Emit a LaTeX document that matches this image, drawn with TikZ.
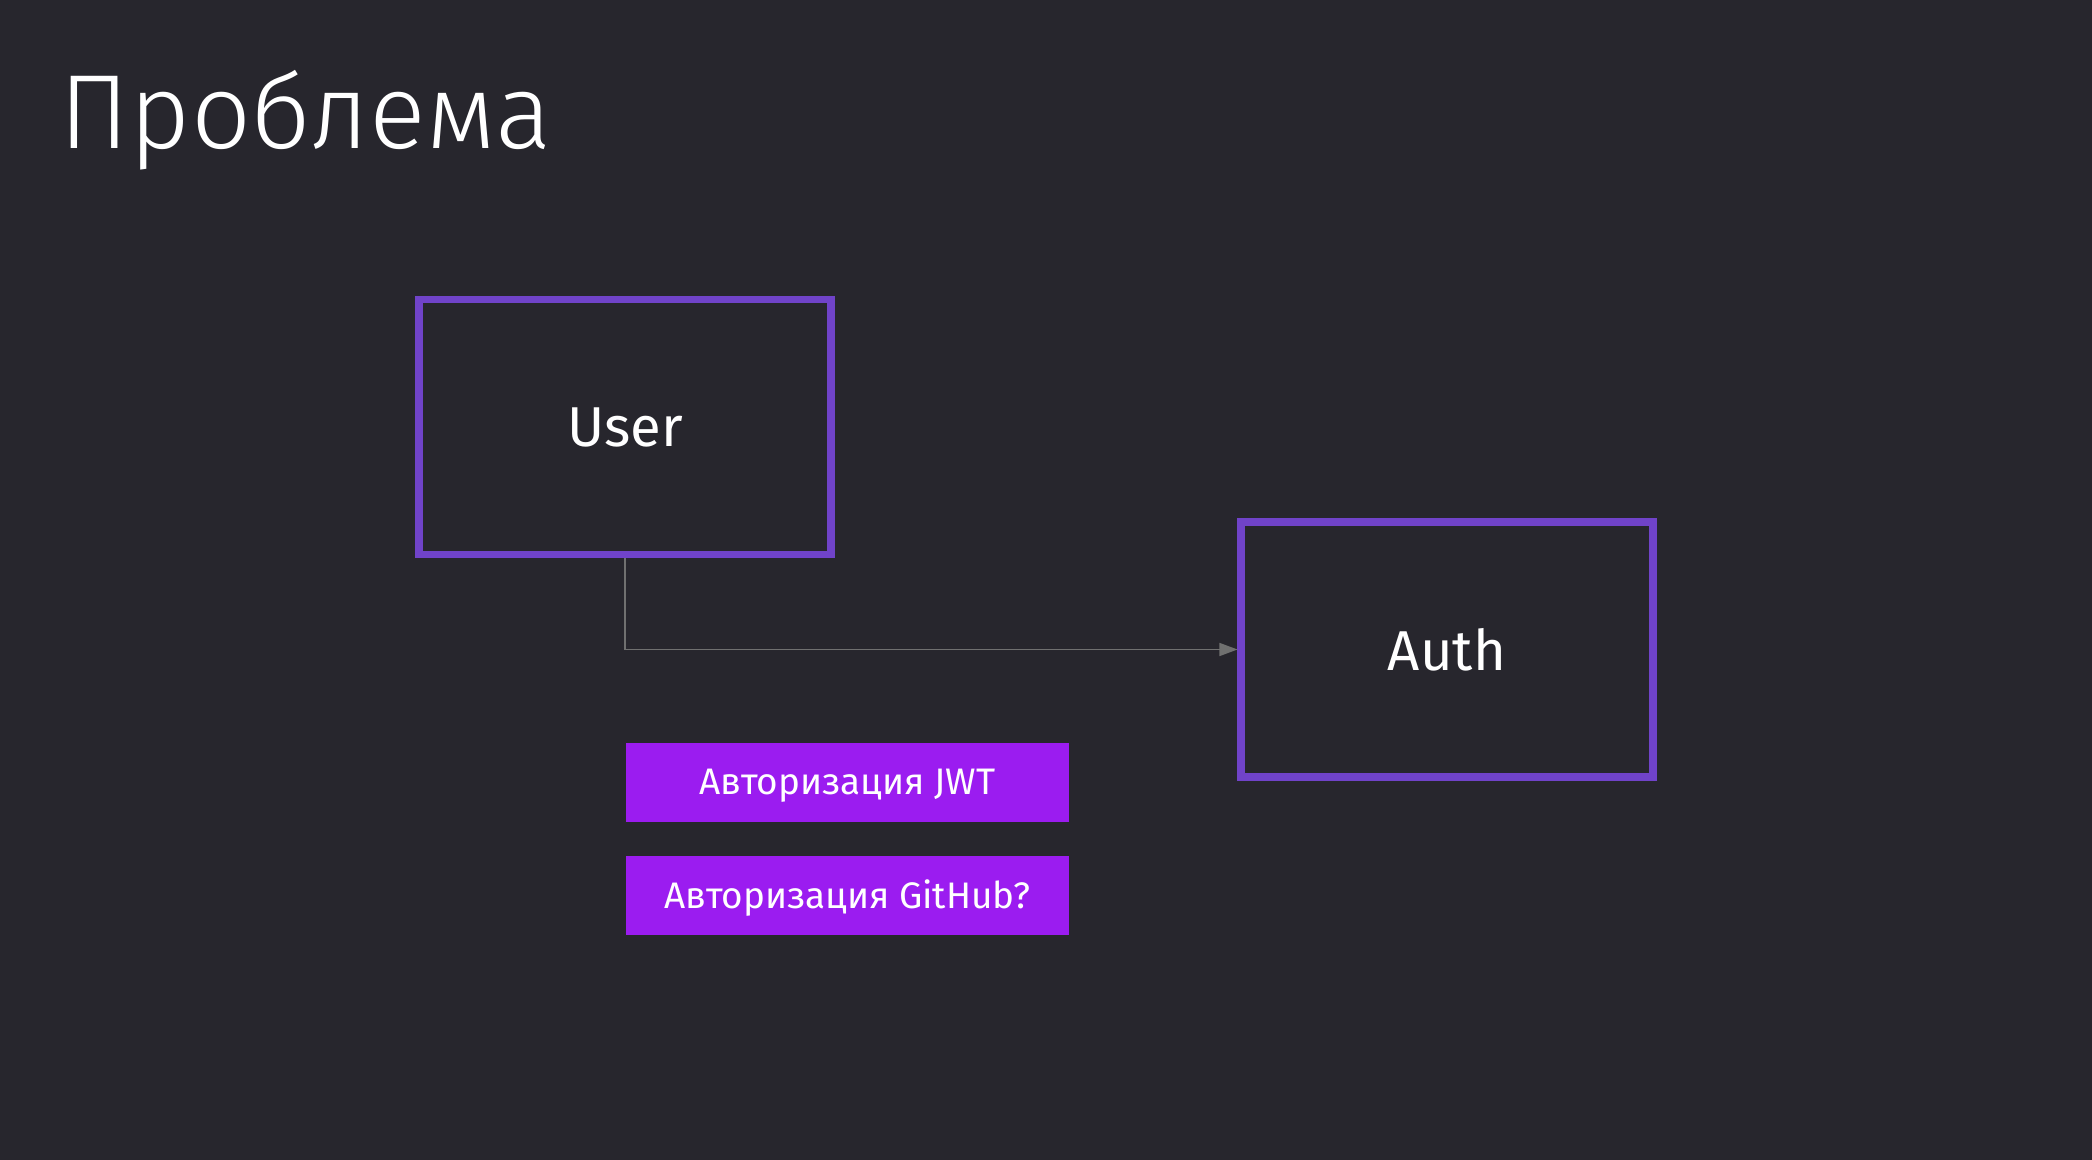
\documentclass[tikz,border=0pt]{standalone}
\usepackage{fontspec}
\setmainfont{Fira Sans}
\newfontfamily\titlefont{Fira Sans Light}
\usetikzlibrary{arrows.meta}
\definecolor{fond}{HTML}{27262D}
\definecolor{cadre}{HTML}{7043C9}
\definecolor{bouton}{HTML}{9B1CF0}
\definecolor{fleche}{HTML}{707070}
\begin{document}
\begin{tikzpicture}
%styles des noeuds
\tikzstyle{bloc}=[rectangle, draw=cadre, line width=2pt, minimum width=4.12cm, minimum height=2.55cm, text=white, font=\fontsize{16}{19}\selectfont]
\tikzstyle{btn}=[rectangle, fill=bouton, minimum width=4.43cm, minimum height=0.79cm, inner sep=0pt, text height=0.689em, text depth=0pt, text=white, font=\fontsize{10.5}{12}\selectfont]
\tikzstyle{vector}=[-{Triangle[length=0.18cm,width=0.13cm]}, color=fleche, line width=0.4pt]
%fond
\fill[fond] (0,0) rectangle (20.92,11.6);
%titre
\node[anchor=base west, inner sep=0pt, text=white, font=\titlefont\fontsize{30}{36}\selectfont] (titre) at (0.59,10.11) {Проблема};
%figure
\node[bloc] (user) at (6.25,7.33) {User};
\node[bloc] (auth) at (14.47,5.105) {Auth};
\draw[vector] (user.south) |- (auth.west);
%boutons
\node[btn] (jwt) at (8.475,3.775) {Авторизация JWT};
\node[btn] (github) at (8.475,2.64) {Авторизация GitHub?};
\end{tikzpicture}
\end{document}
